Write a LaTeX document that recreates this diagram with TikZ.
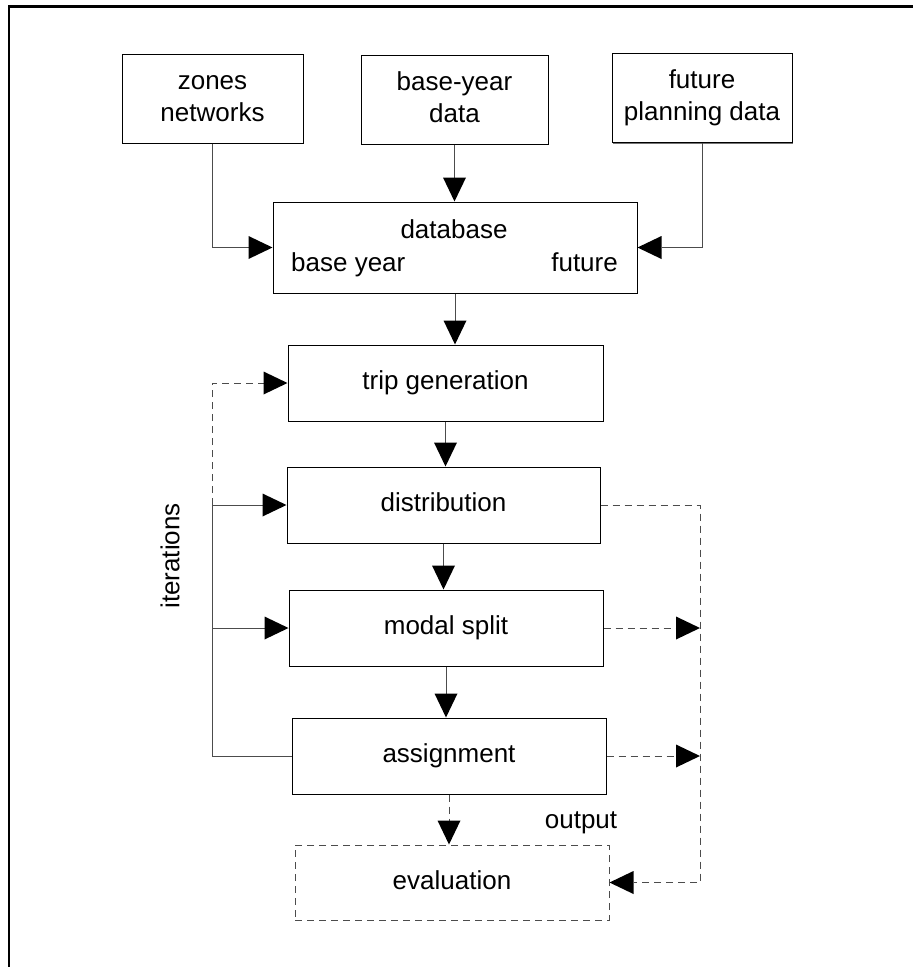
\documentclass[tikz,border=0pt]{standalone}
\usepackage{fontspec}
\setmainfont{Liberation Sans}
\usetikzlibrary{arrows.meta,shadows}
\newcommand\boxstrut{\vphantom{bg}}
\begin{document}
\begin{tikzpicture}[x=1pt,y=-1pt,
  every node/.style={font=\fontsize{26}{32}\selectfont, inner sep=0pt},
  box/.style={draw=black, line width=1pt, fill=white, align=center,
    drop shadow={shadow xshift=1.2pt, shadow yshift=-1.2pt, fill=black!55, opacity=1}},
  onebox/.style={box, text height=19pt, text depth=5.5pt},
  dashbox/.style={draw=black!70, line width=1pt, dash pattern=on 7pt off 5pt,
    text height=19pt, text depth=5.5pt},
  conn/.style={draw=black!70, line width=1pt},
  dconn/.style={conn, dash pattern=on 7pt off 5pt},
  tip/.style={-{Triangle[length=24pt,width=23pt,color=black,fill=black,line width=0pt]}}
]
\useasboundingbox (0,0) rectangle (913,967);

% outer frame (open on the right and bottom)
\draw[line width=2.6pt] (9,975) -- (9,6.5) -- (920,6.5);

% input boxes
\node[box, minimum width=181pt, minimum height=89pt] (zones) at (212.5,98.5)
  {\boxstrut zones\\networks\boxstrut};
\node[box, minimum width=187pt, minimum height=89pt] (base) at (454.5,99.5)
  {\boxstrut base-year\\data\boxstrut};
\node[box, minimum width=180pt, minimum height=89pt] (future) at (702,98)
  {\boxstrut future\\planning data\boxstrut};

% database
\node[box, minimum width=364pt, minimum height=91pt] (db) at (455,247.5) {};
\node[anchor=base] (dbtitle) at (454,238) {database};
\node[anchor=base west] (dbbase) at (291,271) {base year};
\node[anchor=base east] (dbfut) at (618,271) {future};

% model steps
\node[onebox, minimum width=315pt, minimum height=76pt] (trip) at (445.5,383) {trip generation};
\node[onebox, minimum width=313pt, minimum height=76pt] (dist) at (443.5,505) {distribution};
\node[onebox, minimum width=314pt, minimum height=76pt] (modal) at (446,628) {modal split};
\node[onebox, minimum width=314pt, minimum height=76pt] (assign) at (449,756) {assignment};
\node[dashbox, minimum width=314pt, minimum height=75pt] (eval) at (452,882.5) {evaluation};

% labels
\node[rotate=90] (iter) at (170,556) {iterations};
\node[anchor=base] (out) at (581,828) {output};

% feedback rail coordinates
\coordinate (lrail) at (212,0);
\coordinate (rrail) at (700,0);

% inputs into the database
\draw[conn, tip] (zones.south) |- (db.west);
\draw[conn, tip] (future.south) |- (db.east);
\draw[conn, tip] (base.south) -- (base.south |- db.north);

% main sequence
\draw[conn, tip] (db.south) -- (db.south |- trip.north);
\draw[conn, tip] (trip.south) -- (trip.south |- dist.north);
\draw[conn, tip] (dist.south) -- (dist.south |- modal.north);
\draw[conn, tip] (modal.south) -- (modal.south |- assign.north);
\draw[dconn, tip] (assign.south) -- (assign.south |- eval.north);

% iteration loop on the left
\draw[conn] (assign.west) -- (lrail |- assign.west) -- (lrail |- dist.west);
\draw[conn, tip] (lrail |- dist.west) -- (dist.west);
\draw[conn, tip] (lrail |- modal.west) -- (modal.west);
\draw[dconn, tip] (lrail |- dist.west) -- (lrail |- trip.west) -- (trip.west);

% output rail on the right
\draw[dconn, tip] (dist.east) -- (rrail |- dist.east) -- (rrail |- eval.east) -- (eval.east);
\draw[dconn, tip] (modal.east) -- (rrail |- modal.east);
\draw[dconn, tip] (assign.east) -- (rrail |- assign.east);
\end{tikzpicture}
\end{document}
